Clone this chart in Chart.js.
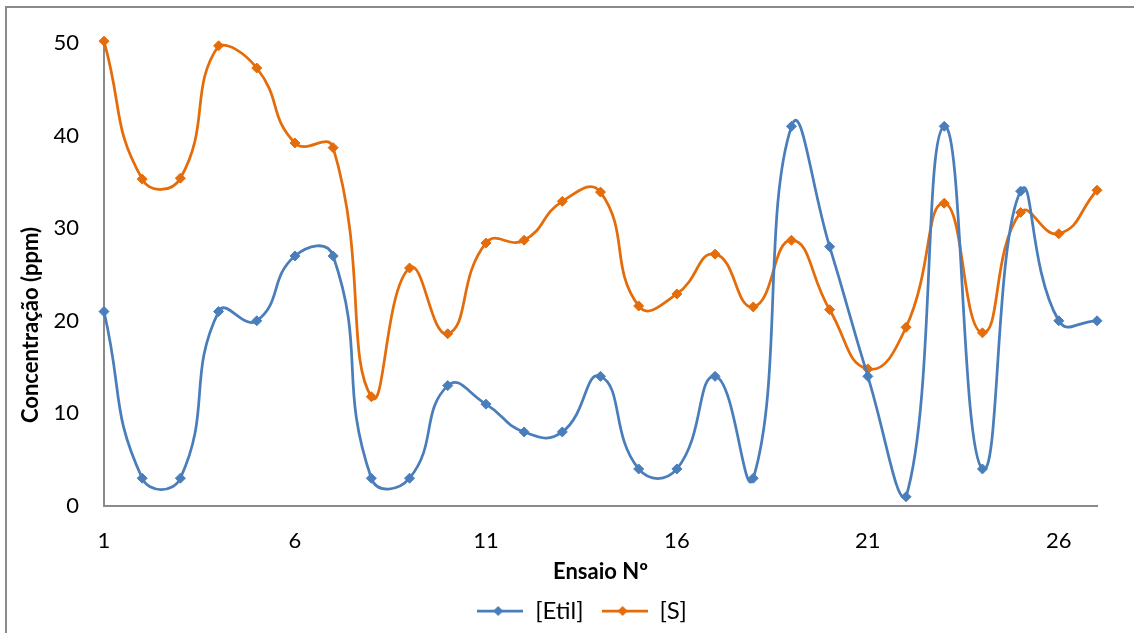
<!DOCTYPE html>
<html><head><meta charset="utf-8">
<script src="https://cdn.jsdelivr.net/npm/chart.js@4/dist/chart.umd.min.js"></script>
<style>
html,body{margin:0;padding:0;background:#fff;}
#wrap{position:relative;width:1134px;height:633px;overflow:hidden;background:#fff;}
#frame{position:absolute;left:5px;top:6px;width:1150px;height:650px;border:2px solid #8a8a8a;box-sizing:border-box;pointer-events:none}
canvas{position:absolute;left:0;top:0}
</style></head><body>
<div id="wrap"><canvas id="c" width="1134" height="633"></canvas><div id="frame"></div></div>
<script>
const categories = ['1','2','3','4','5','6','7','8','9','10','11','12','13','14','15','16','17','18','19','20','21','22','23','24','25','26','27'];
const etilValues = [21,3,3,21,20,27,27,3,3,13,11,8,8,14,4,4,14,3,41,28,14,1,41,4,34,20,20];
const sValues = [50.2,35.3,35.4,49.7,47.3,39.2,38.7,11.8,25.7,18.6,28.4,28.7,32.9,33.9,21.6,22.9,27.2,21.5,28.7,21.2,14.8,19.3,32.7,18.7,31.7,29.4,34.1];
const yTicks = [0,10,20,30,40,50];
const seriesNames = ['[Etil]','[S]'];
const seriesColors = ['#4a7ebb','#e46c0a'];
const xTitle = 'Ensaio Nº';
const yTitle = 'Concentração (ppm)';
const FONT = 'Lato, "Open Sans", sans-serif';

function legendImage(color){
  const c = document.createElement('canvas');
  c.width = 46; c.height = 14;
  const g = c.getContext('2d');
  g.strokeStyle = color; g.lineWidth = 2.75;
  g.beginPath(); g.moveTo(0,7); g.lineTo(46,7); g.stroke();
  g.fillStyle = color;
  g.beginPath(); g.moveTo(21,2); g.lineTo(26,7); g.lineTo(21,12); g.lineTo(16,7); g.closePath(); g.fill();
  return c;
}
const legendImgs = seriesColors.map(legendImage);

const yTitlePlugin = {
  id: 'yTitle',
  afterDraw(chart){
    const ctx = chart.ctx;
    ctx.save();
    ctx.translate(31, 325);
    ctx.rotate(-Math.PI/2);
    ctx.font = 'bold 22px ' + FONT;
    ctx.fillStyle = '#000';
    ctx.textAlign = 'center';
    ctx.textBaseline = 'middle';
    ctx.fillText(yTitle, 0, 0);
    ctx.restore();
  }
};

function mkDataset(i, data){
  return {
    label: seriesNames[i],
    data: data,
    borderColor: seriesColors[i],
    backgroundColor: seriesColors[i],
    pointBackgroundColor: seriesColors[i],
    pointBorderColor: seriesColors[i],
    pointStyle: 'rectRot',
    pointRadius: 5,
    pointBorderWidth: 1,
    borderWidth: 2.75,
    tension: 0.5,
    fill: false,
    clip: 10
  };
}

new Chart(document.getElementById('c'), {
  type: 'line',
  data: {
    labels: categories,
    datasets: [mkDataset(0, etilValues), mkDataset(1, sValues)]
  },
  options: {
    responsive: false,
    animation: false,
    devicePixelRatio: 1,
    layout: {padding: {left: 30, top: 43, right: 0, bottom: 0}},
    plugins: {
      tooltip: {enabled: false},
      legend: {
        position: 'bottom',
        labels: {
          usePointStyle: true,
          pointStyleWidth: 46,
          boxHeight: 14,
          padding: 18,
          color: '#000',
          font: {family: FONT, size: 24},
          generateLabels(chart){
            return chart.data.datasets.map((d, i) => ({
              text: d.label,
              pointStyle: legendImgs[i],
              fillStyle: d.borderColor,
              strokeStyle: d.borderColor,
              lineWidth: 0,
              fontColor: '#000',
              datasetIndex: i,
              hidden: false
            }));
          }
        }
      }
    },
    scales: {
      x: {
        type: 'category',
        offset: false,
        grid: {display: false, drawTicks: false},
        border: {display: true, color: '#8a8a8a', width: 2},
        ticks: {
          autoSkip: false, maxRotation: 0, padding: 22,
          color: '#000', font: {family: FONT, size: 22},
          callback: (v, i) => (i % 5 === 0 ? categories[i] : '')
        },
        title: {display: true, text: xTitle, color: '#000', font: {family: FONT, size: 22, weight: 'bold'}, padding: {top: 8, bottom: -4}},
        afterFit: s => { s.height = 75; }
      },
      y: {
        min: 0, max: 50,
        grid: {display: false, drawTicks: false},
        border: {display: true, color: '#8a8a8a', width: 2},
        ticks: {
          stepSize: 10, padding: 25, color: '#000', font: {family: FONT, size: 22},
          callback: (v) => (yTicks.includes(v) ? String(v) : '')
        },
        afterFit: s => { s.width = 74; }
      },
      ySpacer: {
        type: 'linear',
        position: 'right',
        display: true,
        grid: {display: false, drawTicks: false},
        border: {display: false},
        ticks: {display: false},
        afterFit: s => { s.width = 37; }
      }
    }
  },
  plugins: [yTitlePlugin]
});
</script>
</body></html>
